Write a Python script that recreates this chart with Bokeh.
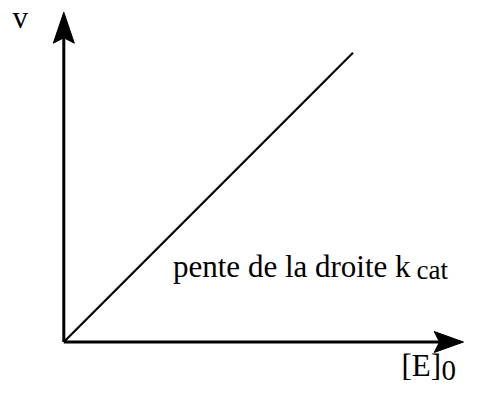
from bokeh.plotting import figure
from bokeh.models import Range1d
from bokeh.core.properties import value
from bokeh.embed import file_html
from bokeh.resources import INLINE

# ---- data ----
e0 = [0, 10]          # [E]0
v = [0, 10]           # v = kcat * [E]0
x_label = "[E]"
x_label_sub = "0"
y_label = "v"
slope_label = "pente de la droite k"
slope_label_sub = "cat"

# ---- layout (pixels) ----
W, H = 464, 387
ORIGIN = (63.3, 341.5)          # px of data (0, 0)
S = 28.92                        # px per data unit
TXT_SHIFT = 10                   # baseline correction, px


def dx(px):
    return (px - ORIGIN[0]) / S


def dy(py):
    return (ORIGIN[1] - py) / S


p = figure(width=W, height=H, output_backend="svg", toolbar_location=None,
           x_axis_location=None, y_axis_location=None, min_border=0,
           x_range=Range1d(dx(0), dx(W)),
           y_range=Range1d(dy(H), dy(0)))
p.grid.visible = False
p.outline_line_color = None
p.background_fill_color = "white"
p.border_fill_color = "white"

# axes as arrows
y_tip, y_barb, y_notch = dy(11.7), dy(42.7), dy(37.3)
x_tip, x_barb, x_notch = dx(463), dx(433.7), dx(439)
hw = 10.5 / S
p.line([0, 0], [0, y_notch], line_color="black", line_width=3)
p.line([0, x_notch], [0, 0], line_color="black", line_width=3)
p.patch([0, -hw, 0, hw], [y_tip, y_barb, y_notch, y_barb],
        fill_color="black", line_color="black", line_width=1)
p.patch([x_tip, x_barb, x_notch, x_barb], [0, hw, 0, -hw],
        fill_color="black", line_color="black", line_width=1)

# data line
p.line(e0, v, line_color="black", line_width=2.2)

font = value("Liberation Serif")
def txt(x, y, t, size):
    p.text([dx(x)], [dy(y - TXT_SHIFT)], text=[t], text_font=font,
           text_font_size=size, text_color="black", text_align="left",
           text_baseline="alphabetic")

txt(12.0, 27.3, y_label, "31px")
txt(172.5, 276, slope_label, "31px")
txt(416, 279.5, slope_label_sub, "27px")
txt(401, 375, x_label, "31px")
txt(441, 380, x_label_sub, "29px")

open("out.html", "w").write(file_html(p, INLINE))
